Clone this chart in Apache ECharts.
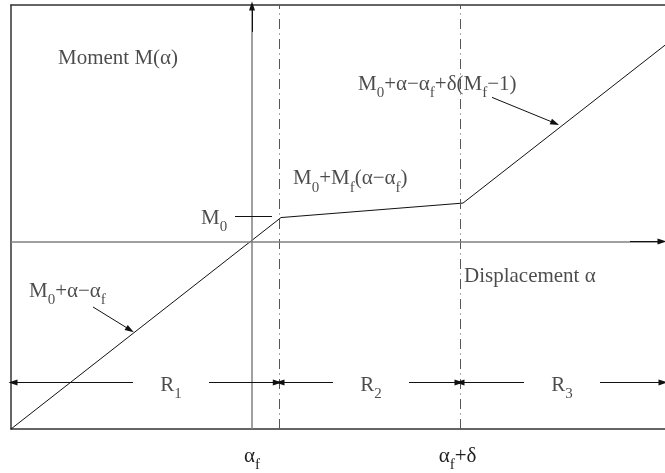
<!DOCTYPE html>
<html>
<head>
<meta charset="utf-8">
<script src="https://cdn.jsdelivr.net/npm/echarts@6/dist/echarts.min.js"></script>
<style>
  html, body { margin: 0; padding: 0; background: #fff; }
  #chart { width: 665px; height: 473px; }
</style>
</head>
<body>
<div id="chart"></div>
<script>
// Piecewise-linear moment curve M(α): vertices bounding regions R1, R2, R3
const alpha  = [-2.41, 0.29, 2.11, 4.13];
const moment = [-2.40, 0.305, 0.49, 2.51];

// Region boundaries α_f and α_f+δ (dash-dot verticals)
const boundaries = [0.265, 2.075];

// Region names and where their labels sit along the span arrows
const regionIds = ['1', '2', '3'];
const regionMid = [-0.81, 1.19, 3.10];
const regionRow = -1.804;

// Level of the M0 marker on the moment axis
const m0Level = 0.327;

// Tick labels under the displacement axis
const tickValues = [0, 2.055];
const tickLabels = ['{m|α}{s|f}', '{m|α}{s|f}{m|+δ}'];

// Axis extents
const xRange = [-2.41, 4.13];
const yRange = [-2.40, 3.024];

// Formula and axis annotations: [α, M] anchor, text, alignment
const notes = [
  { at: [-1.94, 2.338], text: '{m|Moment M(α)}', align: 'left' },
  { at: [-0.51, 0.299], text: '{m|M}{s|0}', align: 'left' },
  { at: [0.41, 0.80], text: '{m|M}{s|0}{m|+M}{s|f}{m|(α−α}{s|f}{m|)}', align: 'left' },
  { at: [1.06, 2.008], text: '{m|M}{s|0}{m|+α−α}{s|f}{m|+δ(M}{s|f}{m|−1)}', align: 'left' },
  { at: [2.12, -0.445], text: '{m|Displacement α}', align: 'left' },
  { at: [-2.23, -0.635], text: '{m|M}{s|0}{m|+α−α}{s|f}', align: 'left' }
];

// Pointer arrows from formulas to the curve: [from, to]
const pointers = [
  [[-1.59, -0.839], [-1.22, -1.131]],
  [[2.40, 1.842], [3.03, 1.512]]
];

const FONT = 'Liberation Serif';
const INK = '#1e1e1e';
const RICH = {
  m: { fontSize: 21, lineHeight: 21, verticalAlign: 'top', fontFamily: FONT, color: INK },
  s: { fontSize: 15, lineHeight: 15, verticalAlign: 'top', padding: [12, 0, 0, 0], fontFamily: FONT, color: INK }
};

const seg = (a, b, endSymbol) => [
  { coord: a, symbol: 'none' },
  { coord: b, symbol: endSymbol || 'none' }
];

// Span arrows for each region, broken around the region name
const gap = 0.38;
const spans = [
  [xRange[0] + 0.02, boundaries[0] - 0.012],
  [boundaries[0] + 0.015, boundaries[1] - 0.005],
  [boundaries[1] + 0.005, xRange[1] - 0.02]
];
const spanArrows = [];
spans.forEach((s, i) => {
  spanArrows.push(seg([regionMid[i] - gap, regionRow], [s[0], regionRow], 'triangle'));
  spanArrows.push(seg([regionMid[i] + gap, regionRow], [s[1], regionRow], 'triangle'));
});

const chart = echarts.init(document.getElementById('chart'), null, { renderer: 'canvas' });

const frameLine = { show: true, onZero: false, lineStyle: { color: '#333', width: 1.5 } };
const quietAxis = { axisTick: { show: false }, splitLine: { show: false } };

chart.setOption({
  animation: false,
  backgroundColor: '#fff',
  grid: { left: 11, right: 0, top: 5, bottom: 41, containLabel: false },
  xAxis: [
    Object.assign({
      type: 'value', position: 'bottom', min: xRange[0], max: xRange[1],
      axisLine: frameLine,
      axisLabel: {
        show: true, margin: 17, customValues: tickValues, rich: RICH,
        formatter: v => {
          const i = tickValues.findIndex(t => Math.abs(t - v) < 1e-6);
          return i >= 0 ? tickLabels[i] : '';
        }
      }
    }, quietAxis),
    Object.assign({
      type: 'value', position: 'top', min: xRange[0], max: xRange[1],
      axisLine: frameLine, axisLabel: { show: false }
    }, quietAxis)
  ],
  yAxis: [
    Object.assign({
      type: 'value', position: 'left', min: yRange[0], max: yRange[1],
      axisLine: frameLine, axisLabel: { show: false }
    }, quietAxis)
  ],
  series: [
    {
      name: 'M(α)', type: 'line', xAxisIndex: 0, yAxisIndex: 0,
      data: alpha.map((a, i) => [a, moment[i]]),
      showSymbol: false, silent: true, z: 4,
      lineStyle: { color: '#111', width: 1 }
    },
    {
      // region boundaries
      type: 'line', data: [], silent: true, z: 2,
      markLine: {
        silent: true, symbol: ['none', 'none'], label: { show: false },
        lineStyle: { color: '#555', width: 1, type: [10, 4.5, 1, 4.5] },
        emphasis: { disabled: true },
        data: boundaries.map(b => ({ xAxis: b }))
      }
    },
    {
      // central displacement and moment axes
      type: 'line', data: [], silent: true, z: 3,
      markLine: {
        silent: true, symbol: ['none', 'none'], label: { show: false },
        lineStyle: { color: '#808080', width: 1.5, type: 'solid' },
        emphasis: { disabled: true },
        data: [
          seg([xRange[0], 0], [4.10, 0]),
          seg([0, yRange[0]], [0, 3.01])
        ]
      }
    },
    {
      // arrow heads, M0 marker, pointers and region spans
      type: 'line', data: [], silent: true, z: 5,
      markLine: {
        silent: true, symbol: ['none', 'none'], symbolSize: [6, 9], label: { show: false },
        lineStyle: { color: '#111', width: 1, type: 'solid' },
        emphasis: { disabled: true },
        data: [
          seg([3.78, 0], [4.10, 0], 'triangle'),
          seg([0, 2.68], [0, 3.01], 'triangle'),
          seg([-0.17, m0Level], [0.20, m0Level])
        ].concat(pointers.map(p => seg(p[0], p[1], 'triangle')), spanArrows)
      }
    },
    {
      // annotation texts
      type: 'scatter', symbolSize: 0, silent: true, z: 6,
      label: { show: true, position: 'inside', verticalAlign: 'middle', rich: RICH, color: INK },
      data: notes.map(n => ({
        value: n.at,
        label: { align: n.align, formatter: () => n.text }
      })).concat(regionIds.map((id, i) => ({
        value: [regionMid[i], regionRow - 0.04],
        label: { align: 'center', formatter: () => '{m|R}{s|' + id + '}' }
      })))
    }
  ]
});
</script>
</body>
</html>
